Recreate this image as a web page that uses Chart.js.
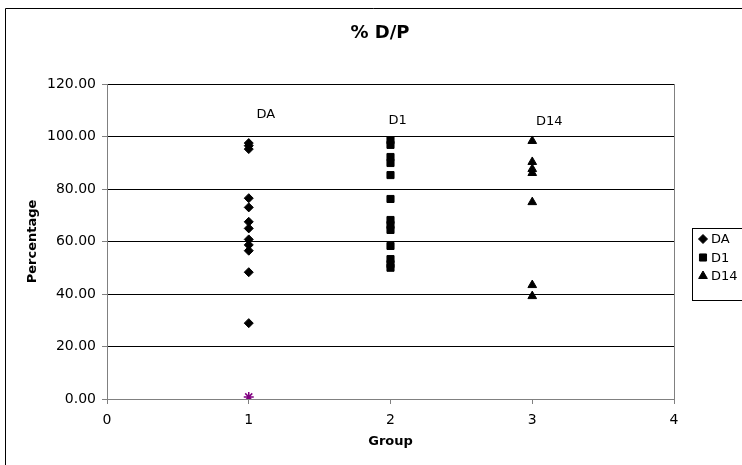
<!DOCTYPE html>
<html>
<head>
<meta charset="utf-8">
<title>% D/P</title>
<script src="https://cdn.jsdelivr.net/npm/chart.js@4/dist/chart.umd.min.js"></script>
<style>
  html, body { margin: 0; padding: 0; background: #fff; }
  #wrap { width: 742px; height: 465px; position: relative; }
</style>
</head>
<body>
<div id="wrap"><canvas id="dp-chart" width="742" height="465"></canvas></div>
<script>
// groups on the x axis
const groupDA = 1;
const groupD1 = 2;
const groupD14 = 3;

// percentage values per group
const daValues = [97.5, 96.5, 95.2, 76.5, 73.0, 67.5, 65.0, 60.8, 58.7, 56.5, 48.3, 28.9];
const d1Values = [98.6, 96.8, 92.2, 89.9, 85.3, 76.2, 68.2, 66.3, 64.4, 58.3, 53.3, 51.4, 50.0];
const d14Values = [98.3, 90.3, 87.6, 86.1, 75.0, 43.4, 39.2];
const extraValues = [0.8];

const seriesNames = ['DA', 'D1', 'D14'];
const yTicks = [0, 20, 40, 60, 80, 100, 120];
const xTicks = [0, 1, 2, 3, 4];

const FONT = 'DejaVu Sans, Verdana, sans-serif';

function toPoints(group, values) {
  return values.map(v => ({ x: group, y: v }));
}

// group names written above each column
const groupLabels = [
  { text: 'DA', x: 1.12, y: 108.5 },
  { text: 'D1', x: 2.05, y: 106 },
  { text: 'D14', x: 3.12, y: 105.5 }
];

const decorations = {
  id: 'decorations',
  beforeDraw(chart) {
    const ctx = chart.ctx;
    ctx.save();
    ctx.fillStyle = '#fff';
    ctx.fillRect(0, 0, chart.width, chart.height);
    // outer frame
    ctx.strokeStyle = '#000';
    ctx.lineWidth = 1;
    ctx.beginPath();
    ctx.moveTo(5.5, chart.height);
    ctx.lineTo(5.5, 8.5);
    ctx.lineTo(chart.width, 8.5);
    ctx.stroke();
    // chart title
    ctx.fillStyle = '#000';
    ctx.font = 'bold 18px ' + FONT;
    ctx.textAlign = 'center';
    ctx.textBaseline = 'middle';
    ctx.fillText('% D/P', 380, 33);
    ctx.restore();
  },
  afterDraw(chart) {
    const ctx = chart.ctx;
    const area = chart.chartArea;
    const xs = chart.scales.x;
    const ys = chart.scales.y;
    ctx.save();
    // right edge of plot area
    ctx.strokeStyle = '#808080';
    ctx.lineWidth = 1;
    ctx.beginPath();
    ctx.moveTo(Math.round(area.right) + 0.5, area.top);
    ctx.lineTo(Math.round(area.right) + 0.5, area.bottom);
    ctx.stroke();

    ctx.fillStyle = '#000';
    ctx.font = '13px ' + FONT;
    ctx.textAlign = 'center';
    ctx.textBaseline = 'middle';
    groupLabels.forEach(l => {
      ctx.fillText(l.text, xs.getPixelForValue(l.x), ys.getPixelForValue(l.y));
    });

    // legend box
    ctx.strokeStyle = '#000';
    ctx.strokeRect(692.5, 228.5, 60, 72);
    ctx.textAlign = 'left';
    seriesNames.forEach((name, i) => {
      const ds = chart.data.datasets[i];
      const y = 239 + i * 18.5;
      ctx.fillStyle = '#000';
      ctx.strokeStyle = '#000';
      Chart.helpers.drawPoint(ctx, {
        pointStyle: ds.pointStyle,
        radius: ds.pointRadius,
        rotation: 0,
        borderWidth: 1
      }, 703, y);
      ctx.fillStyle = '#000';
      ctx.fillText(name, 711, y + 1);
    });
    ctx.restore();
  }
};

new Chart(document.getElementById('dp-chart').getContext('2d'), {
  type: 'scatter',
  data: {
    datasets: [
      {
        label: 'DA',
        data: toPoints(groupDA, daValues),
        pointStyle: 'rectRot',
        pointRadius: 4.5,
        backgroundColor: '#000',
        borderColor: '#000',
        borderWidth: 1
      },
      {
        label: 'D1',
        data: toPoints(groupD1, d1Values),
        pointStyle: 'rect',
        pointRadius: 5,
        backgroundColor: '#000',
        borderColor: '#000',
        borderWidth: 1
      },
      {
        label: 'D14',
        data: toPoints(groupD14, d14Values),
        pointStyle: 'triangle',
        pointRadius: 5,
        backgroundColor: '#000',
        borderColor: '#000',
        borderWidth: 1
      },
      {
        label: '',
        data: toPoints(groupDA, extraValues),
        pointStyle: 'star',
        pointRadius: 5,
        backgroundColor: '#800080',
        borderColor: '#800080',
        borderWidth: 1.5
      }
    ]
  },
  options: {
    responsive: false,
    animation: false,
    layout: { padding: { left: 0, right: 68, top: 84, bottom: 0 } },
    plugins: {
      legend: { display: false },
      tooltip: { enabled: false },
      title: { display: false }
    },
    scales: {
      x: {
        type: 'linear',
        min: 0,
        max: 4,
        afterBuildTicks: s => { s.ticks = xTicks.map(v => ({ value: v })); },
        afterFit: s => { s.height = 66; },
        grid: { drawOnChartArea: false, drawTicks: true, tickLength: 5, tickColor: '#808080' },
        border: { color: '#808080', width: 1 },
        ticks: { color: '#000', font: { family: FONT, size: 14 }, padding: 8 },
        title: {
          display: true,
          text: 'Group',
          color: '#000',
          font: { family: FONT, size: 13, weight: 'bold' },
          padding: { top: 4, bottom: 16 }
        }
      },
      y: {
        min: 0,
        max: 120,
        afterBuildTicks: s => { s.ticks = yTicks.map(v => ({ value: v })); },
        afterFit: s => { s.width = 107; },
        grid: { color: '#000', lineWidth: 1, drawTicks: true, tickLength: 5, tickColor: '#808080' },
        border: { color: '#808080', width: 1 },
        ticks: {
          color: '#000',
          font: { family: FONT, size: 14 },
          padding: 6,
          callback: v => Number(v).toFixed(2)
        },
        title: {
          display: true,
          text: 'Percentage',
          color: '#000',
          font: { family: FONT, size: 13, weight: 'bold' },
          padding: { top: 25, bottom: 0 }
        }
      }
    }
  },
  plugins: [decorations]
});
</script>
</body>
</html>
